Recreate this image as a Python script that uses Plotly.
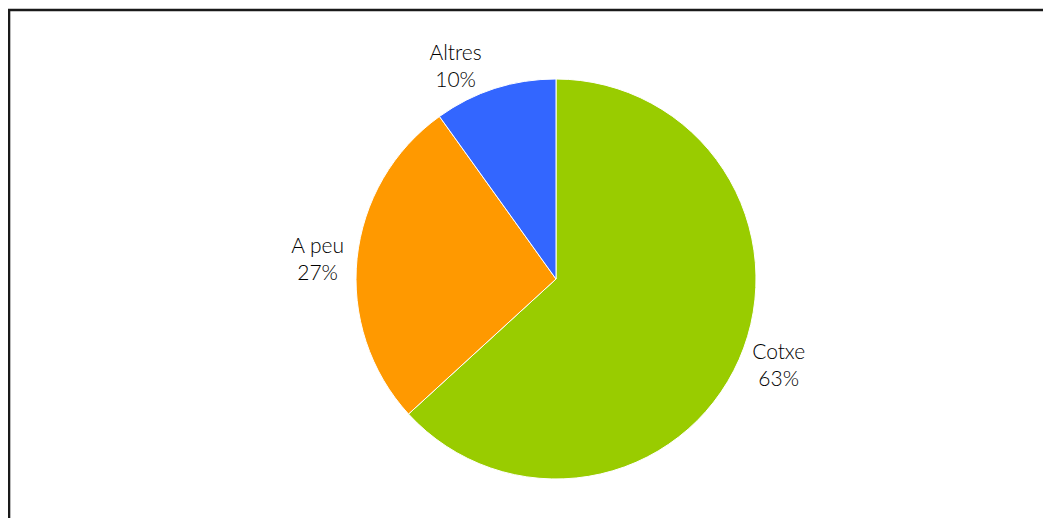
import plotly.graph_objects as go

categories = ["Cotxe", "A peu", "Altres"]
values = [63.2, 26.9, 9.9]
colors = ["#99CC00", "#FF9900", "#3366FF"]

W, H = 1051, 518
# page body margin (8px) shifts everything; pie centre in figure pixels
cx, cy, r = 548, 271, 200

fig = go.Figure(go.Pie(
    labels=categories,
    values=values,
    sort=False,
    direction="clockwise",
    rotation=0,
    marker=dict(colors=colors, line=dict(color="white", width=1)),
    texttemplate="%{label}<br>%{percent:.0%}",
    textposition="outside",
    textfont=dict(family="Lato, DejaVu Sans, sans-serif", size=21, color="#000000", weight=300),
    showlegend=False,
    hoverinfo="label+percent",
    domain=dict(x=[(cx - r) / W, (cx + r) / W], y=[1 - (cy + r) / H, 1 - (cy - r) / H]),
))

fig.update_layout(
    width=W, height=H,
    margin=dict(l=0, r=0, t=0, b=0),
    paper_bgcolor="white",
    plot_bgcolor="white",
    shapes=[dict(type="rect", xref="paper", yref="paper",
                 x0=0.001, x1=1.01, y0=-0.01, y1=0.996,
                 line=dict(color="#1a1a1a", width=2.5), fillcolor="rgba(0,0,0,0)")],
)

fig.write_html("out.html")
